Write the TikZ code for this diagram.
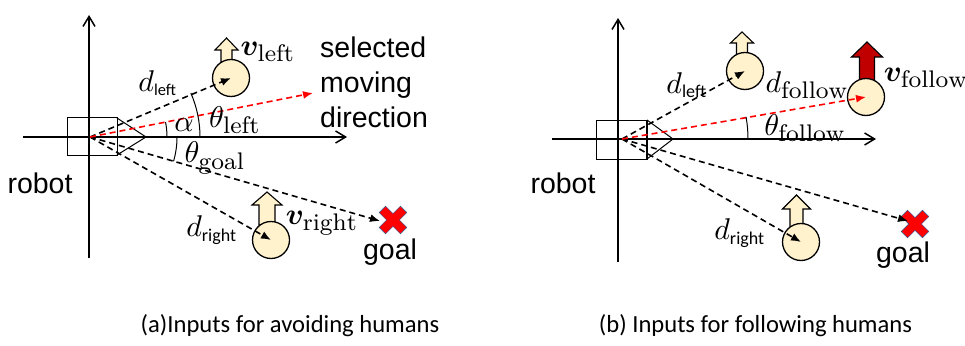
\RequirePackage{fix-cm}
\documentclass[tikz,border=0pt]{standalone}
\usepackage{amsmath}
\usepackage{bm}
\usepackage{fontspec}
\newfontfamily\arialf{Liberation Sans}
\newfontfamily\calf{Carlito}
\usetikzlibrary{arrows.meta}
\DeclareMathSizes{10}{10}{8}{6}
\definecolor{cream}{HTML}{FFF2CC}
\definecolor{darkred}{HTML}{C00000}
\definecolor{xred}{HTML}{FF0000}
\definecolor{xblue}{HTML}{2F528F}
\newcommand\harrow[7]{\draw[line width=1.1pt,fill=#1,line join=miter] (#2,#3) -- (#2+#4,#5) -- (#2+#6,#5) -- (#2+#6,#7) -- (#2-#6,#7) -- (#2-#6,#5) -- (#2-#4,#5) -- cycle;}
\newcommand\goalx[2]{\begin{scope}[shift={(#1,#2)},rotate=45]
\draw[fill=xred,draw=xblue,line width=0.5pt] (-15,-4.5) -- (-4.5,-4.5) -- (-4.5,-15) -- (4.5,-15) -- (4.5,-4.5) -- (15,-4.5) -- (15,4.5) -- (4.5,4.5) -- (4.5,15) -- (-4.5,15) -- (-4.5,4.5) -- (-15,4.5) -- cycle;
\end{scope}}
\begin{document}
\begin{tikzpicture}[x=1pt,y=-1pt,
  axisln/.style={line width=1.5pt,-{Straight Barb[length=10pt,width=12pt,line width=1.5pt]}},
  ray/.style={line width=1.6pt,dash pattern=on 6pt off 4pt,-{Latex[length=10pt,width=8pt]}},
  redray/.style={ray,color=xred},
  human/.style={circle,draw,line width=1.3pt,fill=cream,minimum size=37pt,inner sep=0pt},
  thinln/.style={line width=1pt},
  mlab/.style={font=\fontsize{10}{12}\selectfont,inner sep=0pt,scale=3.0},
  tlab/.style={font=\arialf\fontsize{28.5}{35}\selectfont,inner sep=0pt},
  captext/.style={font=\calf\fontsize{24.6}{28}\selectfont,inner sep=0pt}]
\fill[white] (0,0) rectangle (965,345);
\useasboundingbox (0,0) rectangle (965,345);
% ---------- panel (a)
\coordinate (o1) at (90,137);
\coordinate (va1) at (89,258); \coordinate (vb1) at (89,15);
\coordinate (ha1) at (23,137); \coordinate (hb1) at (347,137);
\draw[axisln] (va1) -- (vb1);
\draw[axisln] (ha1) -- (hb1);
\draw[thinln] (67,117) rectangle (117,155);
\draw[thinln] (117,118) -- (146,137) -- (117,155);
\harrow{cream}{226.5}{38}{11.5}{50}{5.5}{62}
\node[human] (hl1) at (231,78) {};
\harrow{cream}{267}{192}{15}{205}{8}{225}
\node[human] (hr1) at (271,240) {};
\goalx{393}{220}
\coordinate (g1) at (380,221);
\coordinate (m1) at (313,93);
\draw[ray] (o1) -- (hl1.center);
\draw[ray] (o1) -- (hr1.center);
\draw[ray] (o1) -- (g1);
\draw[redray] (o1) -- (m1);
\draw[thinln] (o1) ++(110,0) arc[start angle=0,end angle=-23.5,radius=110];
\draw[thinln] (o1) ++(77,0) arc[start angle=0,end angle=-11.2,radius=77];
\draw[thinln] (o1) ++(87,0) arc[start angle=0,end angle=16.2,radius=87];
\node[mlab] (vl1) at (268,52) {$\bm{v}_{\mathrm{left}}$};
\node[mlab] (dl1) at (158,83) {$d_{\text{\calf\fontsize{5.5}{6}\selectfont left}}$};
\node[mlab] (tl1) at (235,120) {$\theta_{\mathrm{left}}$};
\node[mlab] (al1) at (184,125) {$\alpha$};
\node[mlab] (tg1) at (215,158) {$\theta_{\mathrm{goal}}$};
\node[mlab] (vr1) at (322,223) {$\bm{v}_{\mathrm{right}}$};
\node[mlab] (dr1) at (212,230) {$d_{\text{\calf\fontsize{6}{6.5}\selectfont right}}$};
\node[tlab] (goal1) at (390,252) {goal};
\node[tlab] (rob1) at (40,183) {robot};
\node[tlab,anchor=west,align=left] (sel1) at (320,82.5) {selected\\moving\\direction};
\node[captext] (cap1) at (290,326) {(a)Inputs for avoiding humans};
% ---------- panel (b)
\coordinate (o2) at (622,139);
\coordinate (va2) at (618,262); \coordinate (vb2) at (618,18);
\coordinate (ha2) at (552,139); \coordinate (hb2) at (876,139);
\draw[axisln] (va2) -- (vb2);
\draw[axisln] (ha2) -- (hb2);
\draw[thinln] (596,120) rectangle (647,159);
\draw[line width=2.2pt] (647,120) -- (647,159);
\draw[thinln] (647,120) -- (673,139) -- (647,159);
\harrow{cream}{742}{32}{11.5}{43}{5.5}{55}
\node[human] (hl2) at (745,71) {};
\harrow{darkred}{867}{42}{15.5}{57}{7.5}{82}
\node[human] (hf2) at (866,97) {};
\harrow{cream}{796.5}{195}{14}{209}{6.5}{227}
\node[human] (hr2) at (801,242) {};
\goalx{915}{224}
\coordinate (g2) at (908,221);
\draw[ray] (o2) -- (hl2.center);
\draw[ray] (o2) -- (hr2.center);
\draw[ray] (o2) -- (g2);
\draw[redray] (o2) -- (hf2.center);
\draw[thinln] (o2) ++(126,0) arc[start angle=0,end angle=-10.1,radius=126];
\node[mlab] (dl2) at (687,85) {$d_{\text{\calf\fontsize{6}{6.5}\selectfont left}}$};
\node[mlab] (df2) at (807,85) {$d_{\mathrm{follow}}$};
\node[mlab] (vf2) at (926,78) {$\bm{v}_{\mathrm{follow}}$};
\node[mlab] (tf2) at (805,128) {$\theta_{\mathrm{follow}}$};
\node[mlab] (dr2) at (740,233) {$d_{\text{\calf\fontsize{6}{6.5}\selectfont right}}$};
\node[tlab] (goal2) at (903,255) {goal};
\node[tlab] (rob2) at (563,183) {robot};
\node[captext] (cap2) at (755.5,326) {(b) Inputs for following humans};
\end{tikzpicture}
\end{document}
